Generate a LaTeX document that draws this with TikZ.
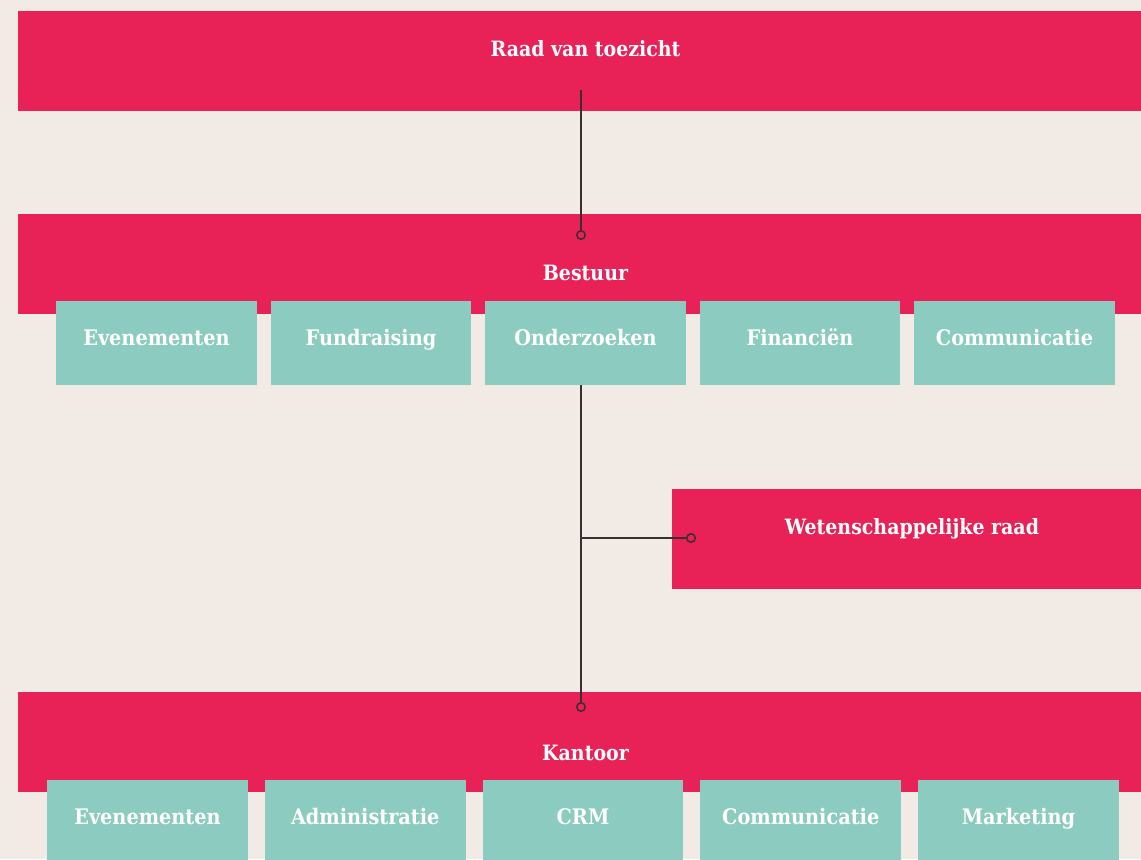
\documentclass[tikz,border=0pt]{standalone}
\usepackage{fontspec}
\setmainfont{DejaVu Serif Condensed}
\definecolor{achtergrond}{HTML}{F1EAE5}
\definecolor{rood}{HTML}{E82157}
\definecolor{mint}{HTML}{8BCBC0}
\definecolor{lijnkleur}{HTML}{3A2E33}
\tikzset{
  balk/.style={fill=rood, minimum width=22.7cm, minimum height=2cm, inner sep=0pt},
  raad/.style={fill=rood, minimum width=9.6cm, minimum height=2cm, inner sep=0pt},
  afdeling/.style={fill=mint, text=white, font=\bfseries\fontsize{12.2}{14}\selectfont,
    minimum width=4.02cm, minimum height=1.68cm, inner sep=0pt, text height=9pt, text depth=5.7pt},
  titel/.style={text=white, font=\bfseries\fontsize{12}{14}\selectfont, inner sep=0pt},
  lijn/.style={lijnkleur, line width=0.85pt},
  bolletje/.style={circle, draw=lijnkleur, fill=rood, line width=0.85pt, minimum size=0.17cm, inner sep=0pt}
}
\begin{document}
\begin{tikzpicture}[x=0.02cm, y=-0.02cm]
        % achtergrond
        \useasboundingbox (0,0) rectangle (1141,859);
        \clip (0,0) rectangle (1141,859);
        \fill[achtergrond] (0,0) rectangle (1141,859);

        % rode balken
        \node[balk] (toezicht) at (585.5,61) {};
        \node[titel] (toezichttekst) at (585.5,49) {Raad van toezicht};
        \node[balk] (bestuur) at (585.5,264) {};
        \node[titel] (bestuurtekst) at (585.5,273) {Bestuur};
        \node[raad] (wetraad) at (912,539) {};
        \node[titel] (wetraadtekst) at (912,529) {Wetenschappelijke raad};
        \node[balk] (kantoor) at (585.5,742) {};
        \node[titel] (kantoortekst) at (585.5,753) {Kantoor};

        % afdelingen
        \foreach \naam [count=\i] in {Evenementen,Fundraising,Onderzoeken,Financiën,Communicatie}
          \node[afdeling] (b\i) at ({156.5+214.5*(\i-1)},343) {\naam};
        \foreach \naam [count=\i] in {Evenementen,Administratie,CRM,Communicatie,Marketing}
          \node[afdeling] (k\i) at ({147.5+217.75*(\i-1)},822) {\naam};

        % lijnen
        \coordinate (r1) at (581,90);
        \node[bolletje] (d1) at (581,235) {};
        \node[bolletje] (d2) at (691,538) {};
        \node[bolletje] (d3) at (581,707) {};
        \draw[lijn] (r1) -- (d1);
        \draw[lijn] (b3.south -| d1) -- (d3);
        \draw[lijn] (d2 -| d1) -- (d2);
\end{tikzpicture}
\end{document}
